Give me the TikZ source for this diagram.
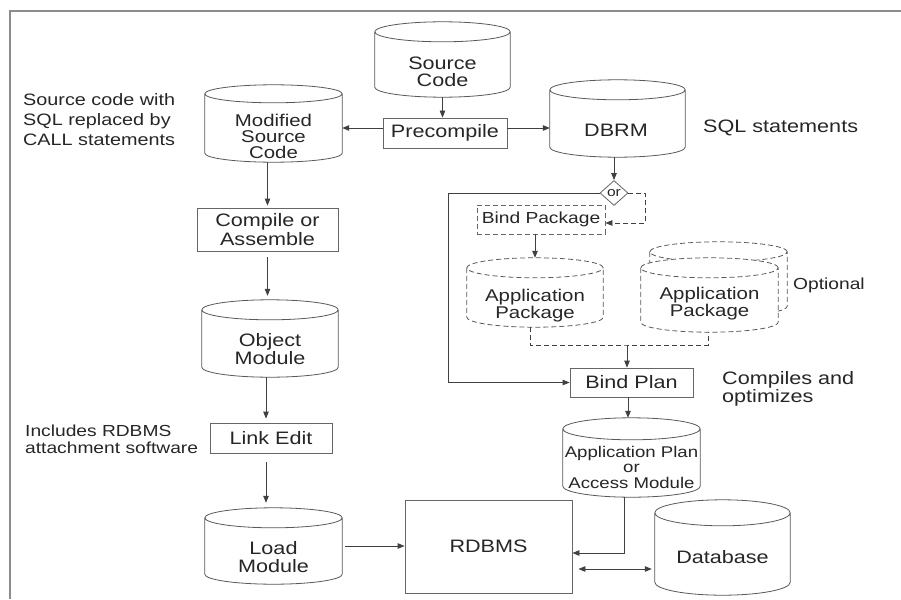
\documentclass[tikz,border=0pt]{standalone}
\usepackage{fontspec}
\setmainfont{Liberation Sans}[FakeStretch=1.2]
\usetikzlibrary{arrows.meta,calc,shapes.geometric}
\newcommand\fs[2]{\fontsize{#1}{#2}\selectfont}
\newcommand\cylpath[3]{%
  \path[#3] let \p1=(#1.north west), \p2=(#1.south east), \n1={(\x2-\x1)/2}, \n2={#2*1pt} in
    (\x1,\y1-\n2) -- (\x1,\y2+\n2) arc[start angle=180, end angle=360, x radius=\n1, y radius=\n2] -- (\x2,\y1-\n2)
    (\x1+\n1,\y1-\n2) ellipse[x radius=\n1, y radius=\n2];
}
\tikzset{
  ln/.style={draw=black!75, line width=0.8pt},
  cylline/.style={draw=black!65, line width=0.8pt, fill=white},
  box/.style={draw=black!60, line width=0.8pt, rectangle, inner sep=0pt, align=center, font=\fs{18}{19}, text=black!85},
  cylb/.style={rectangle, inner sep=0pt, draw=none},
  ctxt/.style={inner sep=0pt, align=center, text=black!85},
  lbl/.style={inner sep=0pt, anchor=west, align=left, text=black!85},
  arr/.style={ln, -{Triangle[length=7pt,width=5.5pt]}},
  dsh/.style={dash pattern=on 5pt off 3pt},
}
\begin{document}
\begin{tikzpicture}[x=1pt,y=1pt]
\useasboundingbox (0,0) rectangle (901,-599);
\fill[white] (0,0) rectangle (901,-599);
\draw[black!45, line width=2pt] (10,-599) -- (10,-11) -- (901,-11);

% cylinders (geometry nodes)
\node[cylb, minimum width=135pt, minimum height=75pt] (sc) at (442.5,-59.5) {};
\node[cylb, minimum width=137pt, minimum height=77pt] (msc) at (273.5,-123.5) {};
\node[cylb, minimum width=135pt, minimum height=77pt] (dbrm) at (617.5,-118.5) {};
\node[cylb, minimum width=136pt, minimum height=69pt] (ap1) at (535,-292.5) {};
\node[cylb, minimum width=137pt, minimum height=74pt] (ap2b) at (718.5,-279) {};
\node[cylb, minimum width=137pt, minimum height=74pt] (ap2) at (709.5,-295) {};
\node[cylb, minimum width=137pt, minimum height=79pt] (apl) at (631.5,-457.5) {};
\node[cylb, minimum width=136pt, minimum height=77pt] (om) at (270,-338.5) {};
\node[cylb, minimum width=137pt, minimum height=76pt] (lm) at (273.5,-546) {};
\node[cylb, minimum width=135pt, minimum height=95pt] (db) at (722.5,-547.5) {};

\cylpath{sc}{10}{cylline}
\cylpath{msc}{9}{cylline}
\cylpath{dbrm}{10}{cylline}
\cylpath{ap1}{10}{cylline,dsh}
\cylpath{ap2b}{10}{cylline,dsh}
\cylpath{ap2}{10}{cylline,dsh}
\cylpath{apl}{11}{cylline}
\cylpath{om}{10}{cylline}
\cylpath{lm}{10}{cylline}
\cylpath{db}{13}{cylline}

% cylinder texts
\node[ctxt, font=\fs{18}{17}] (sct) at (442.5,-72) {Source\\Code};
\node[ctxt, font=\fs{17}{16}] (msct) at (273.5,-136) {Modified\\Source\\Code};
\node[ctxt, font=\fs{18}{18}] (dbrmt) at (616,-130) {DBRM};
\node[ctxt, font=\fs{17}{17}] (ap1t) at (535,-306) {Application\\Package};
\node[ctxt, font=\fs{17}{17}] (ap2t) at (709.5,-304) {Application\\Package};
\node[ctxt, font=\fs{15.5}{15.5}] (aplt) at (631.5,-467) {Application Plan\\or\\Access Module};
\node[ctxt, font=\fs{18}{18}] (omt) at (270,-349) {Object\\Module};
\node[ctxt, font=\fs{18}{18}] (lmt) at (273.5,-557) {Load\\Module};
\node[ctxt, font=\fs{18}{18}] (dbt) at (722.5,-557) {Database};

% boxes
\node[box, minimum width=124pt, minimum height=30pt] (pre) at (445,-133) {Precompile};
\node[box, minimum width=141pt, minimum height=43pt] (cas) at (267.5,-229.5) {Compile or\\Assemble};
\node[box, dsh, font=\fs{16}{16}, minimum width=128pt, minimum height=29pt] (bpk) at (541,-219.5) {Bind Package};
\node[box, minimum width=123pt, minimum height=29pt] (bpl) at (631.5,-382.5) {Bind Plan};
\node[box, minimum width=122pt, minimum height=30pt] (le) at (271,-438) {Link Edit};
\node[box, minimum width=167pt, minimum height=93pt] (rdb) at (488.5,-546.5) {RDBMS};
\node[draw=black!60, line width=0.8pt, diamond, inner sep=0pt, minimum width=28pt, minimum height=25pt, font=\fs{13}{13}, fill=white, text=black!85] (or) at (614,-193) {or};

% labels
\node[lbl, font=\fs{16.5}{20}] (l1) at (23,-120) {Source code with\\SQL replaced by\\CALL statements};
\node[lbl, font=\fs{18}{18}] (l2) at (703,-128) {SQL statements};
\node[lbl, font=\fs{16}{16}] (l3) at (793,-285) {Optional};
\node[lbl, font=\fs{18}{18}] (l4) at (722,-389) {Compiles and\\optimizes};
\node[lbl, font=\fs{16}{17}] (l5) at (25,-439) {Includes RDBMS\\attachment software};

% connectors
\draw[arr] (sc.south) -- (sc.south |- pre.north);
\draw[arr] ([yshift=5pt]pre.west) -- ([yshift=5pt]pre.west -| msc.east);
\draw[arr] ([yshift=5pt]pre.east) -- ([yshift=5pt]pre.east -| dbrm.west);
\draw[arr] (or.north |- dbrm.south) -- (or.north);
\coordinate (lc) at (448,-193);
\draw[arr] (or.west) -- (lc) |- (bpl.west);
\coordinate (rc) at (645,-193);
\draw[arr, dsh] (or.east) -- (rc) |- ([yshift=-3.5pt]bpk.east);
\draw[arr] (ap1.north |- bpk.south) -- (ap1.north);
\coordinate (mg) at (627,-345);
\draw[ln, dsh] ([xshift=-5pt]ap1.south) |- (mg) -| ([xshift=-1.5pt]ap2.south);
\draw[arr] (mg) -- (mg |- bpl.north);
\draw[arr] ([xshift=-3.5pt]bpl.south) -- ([xshift=-3.5pt]bpl.south |- apl.north);
\draw[arr] ([xshift=-7.5pt]apl.south) |- ([yshift=-6.5pt]rdb.east);
\draw[ln, {Triangle[length=7pt,width=5.5pt]}-{Triangle[length=7pt,width=5.5pt]}, shorten <=6pt, shorten >=3pt] ([yshift=-22.5pt]rdb.east) -- ([yshift=-22.5pt]rdb.east -| db.west);

\draw[arr, shorten >=2pt] (cas.north |- msc.south) -- (cas.north);
\draw[arr, shorten <=6pt, shorten >=4pt] (cas.south) -- (cas.south |- om.north);
\draw[arr, shorten >=4pt] ([xshift=-4pt]om.south) -- ([xshift=-4pt]om.south |- le.north);
\draw[arr, shorten <=9pt, shorten >=5pt] ([xshift=-5pt]le.south) -- ([xshift=-5pt]le.south |- lm.north);
\draw[arr, shorten <=3pt] (lm.east) -- (lm.east -| rdb.west);
\end{tikzpicture}
\end{document}
